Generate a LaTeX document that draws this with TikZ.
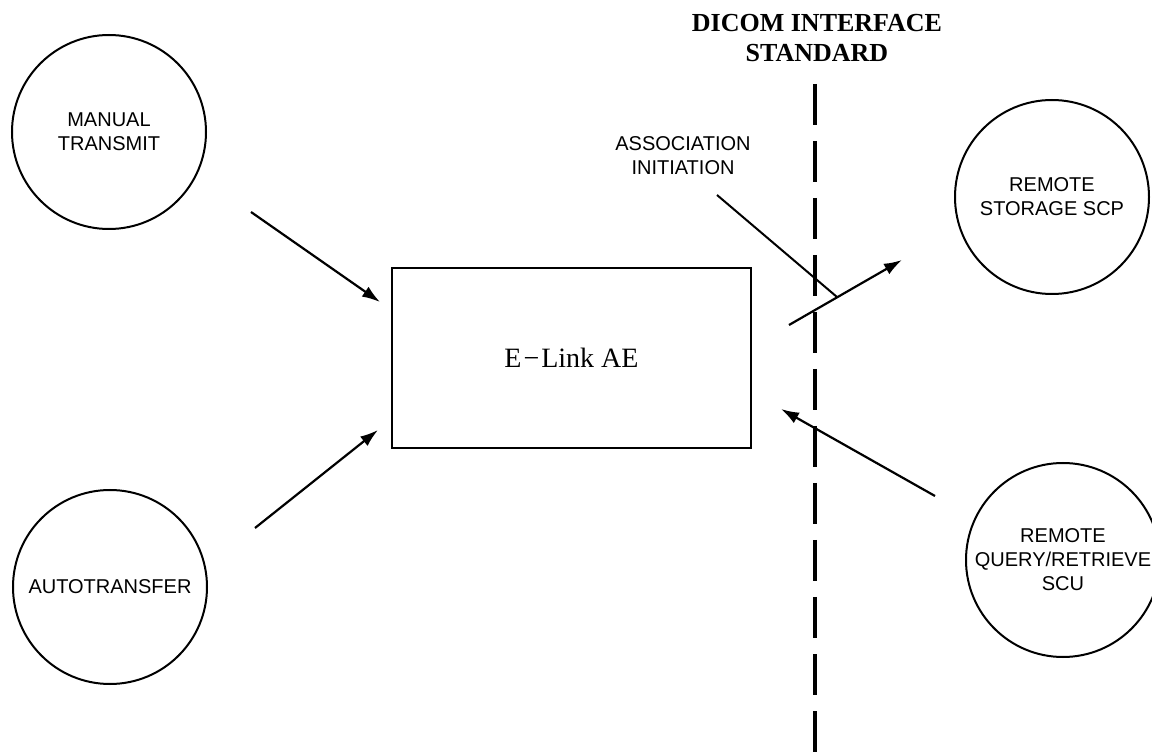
\documentclass[tikz,border=0pt]{standalone}
\usepackage{fontspec}
\setmainfont{Liberation Serif}
\setsansfont{Liberation Sans}
\usepackage{tikz}
\usetikzlibrary{arrows.meta}

\tikzset{
  ent/.style={draw,circle,line width=1pt,minimum size=97pt,inner sep=0pt,
    align=center,font=\sffamily\fontsize{10}{12}\selectfont},
  aebox/.style={draw,rectangle,line width=1pt,minimum width=179.5pt,
    minimum height=90pt,font=\fontsize{14}{16}\selectfont},
  flow/.style={line width=1.1pt,-{Latex[length=9pt,width=6pt]}},
  lbl/.style={align=center,inner sep=0pt,font=\sffamily\fontsize{10}{12}\selectfont},
}

\begin{document}
\begin{tikzpicture}[x=0.5pt,y=-0.5pt]
\useasboundingbox (0,0) rectangle (1152,753);

\node[ent] (manual) at (109,132) {MANUAL\\TRANSMIT};
\node[ent] (auto) at (110,587) {AUTOTRANSFER};
\node[ent] (storage) at (1052,197) {REMOTE\\STORAGE SCP};
\node[ent] (query) at (1063,560) {REMOTE\\QUERY/RETRIEVE\\SCU};
\node[aebox] (elink) at (571.5,358) {E\kern1pt−\kern1pt Link AE};

\node[align=center,inner sep=0pt,font=\bfseries\fontsize{13}{15}\selectfont]
  (std) at (817,38.5) {DICOM INTERFACE\\STANDARD};
\node[lbl] (assoc) at (683,156) {ASSOCIATION\\INITIATION};

\coordinate (std-top) at (815,84);
\coordinate (std-bot) at (815,753);
\draw[line width=2pt,dash pattern=on 20.5pt off 8pt] (std-top) -- (std-bot);

\coordinate (mt-out) at (251,212);
\coordinate (mt-in) at (380,302);
\coordinate (at-out) at (255,528);
\coordinate (at-in) at (378,430);
\coordinate (ae-out) at (789,325);
\coordinate (rs-in) at (902,260);
\coordinate (qr-out) at (935,496);
\coordinate (ae-in) at (781,409);
\coordinate (as-from) at (717,195);
\coordinate (as-to) at (837,297);

\draw[flow] (mt-out) -- (mt-in);
\draw[flow] (at-out) -- (at-in);
\draw[flow] (ae-out) -- (rs-in);
\draw[flow] (qr-out) -- (ae-in);
\draw[line width=1pt] (as-from) -- (as-to);

\end{tikzpicture}
\end{document}
